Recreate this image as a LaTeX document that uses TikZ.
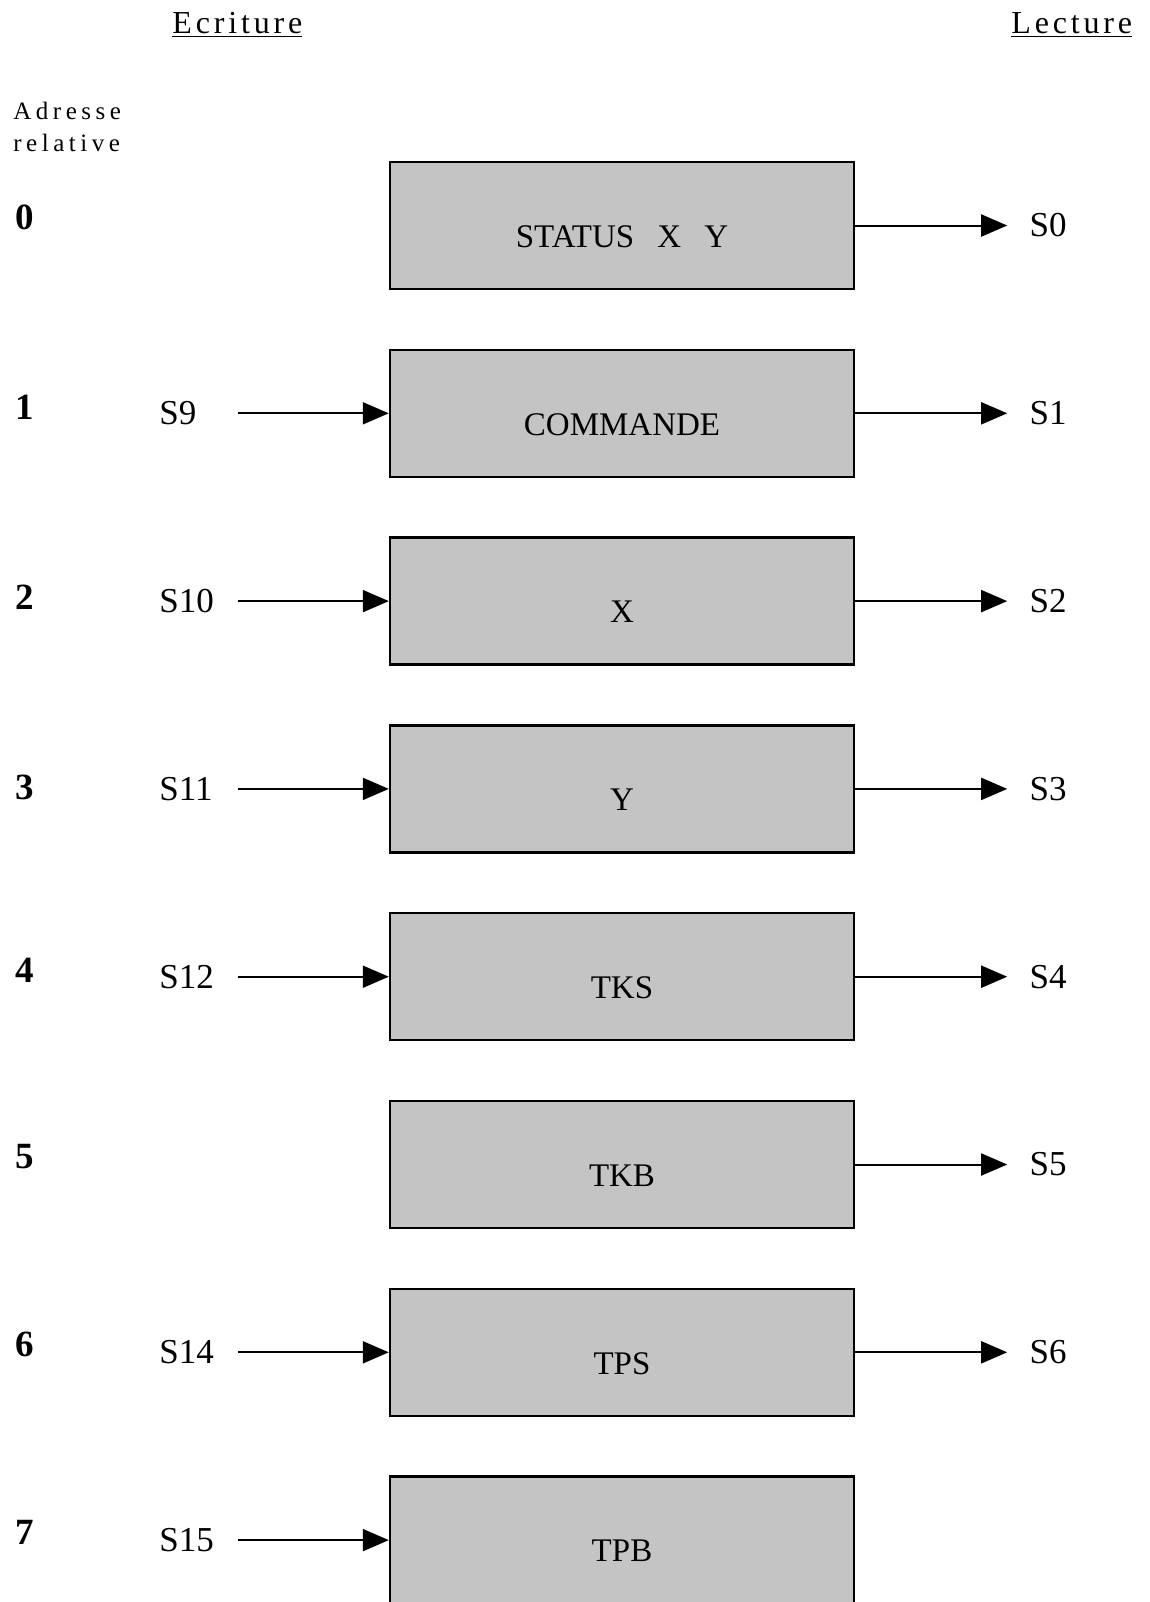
\documentclass[tikz,border=0pt]{standalone}
\usepackage{fontspec}
\setmainfont{Liberation Serif}
\newfontfamily\headfont[LetterSpace=12]{Liberation Serif}
\newfontfamily\addrfont[LetterSpace=18]{Liberation Serif}
\usetikzlibrary{positioning,arrows.meta}

\tikzset{
  reg/.style={draw, line width=1.2pt, fill=black!23, minimum width=232pt,
    minimum height=63.5pt, inner sep=0pt},
  regtext/.style={font=\fontsize{16.5}{20}\selectfont, yshift=-5.5pt, inner sep=0pt},
  insig/.style={font=\fontsize{17.5}{21}\selectfont, text width=37pt, align=left, inner sep=2pt},
  outsig/.style={font=\fontsize{17.5}{21}\selectfont, inner sep=2pt},
  num/.style={font=\bfseries\fontsize{18.5}{22}\selectfont, anchor=west, inner sep=0pt},
  head/.style={font=\headfont\fontsize{16}{19}\selectfont, anchor=base west, inner sep=0pt},
  flow/.style={line width=1pt, -{Triangle[length=13pt,width=11pt]}}
}

\begin{document}
\begin{tikzpicture}[x=0.5pt, y=-0.5pt]
  \useasboundingbox (0,0) rectangle (1150,1602);

  \node[head] (ecr) at (172,33) {\underline{Ecriture}};
  \node[head] (lec) at (1011,33) {\underline{Lecture}};
  \node[anchor=west, align=left, inner sep=0pt,
    font=\addrfont\fontsize{12.5}{16}\selectfont] (adr) at (13,127) {Adresse\\relative};

  \node[reg, label={[regtext]center:STATUS\hspace{0.7em}X\hspace{0.7em}Y}] (reg0) at (622,225.5) {};
  \node[reg, below=29.2pt of reg0, label={[regtext]center:COMMANDE}] (reg1) {};
  \node[reg, below=29.2pt of reg1, label={[regtext]center:X}] (reg2) {};
  \node[reg, below=29.2pt of reg2, label={[regtext]center:Y}] (reg3) {};
  \node[reg, below=29.2pt of reg3, label={[regtext]center:TKS}] (reg4) {};
  \node[reg, below=29.2pt of reg4, label={[regtext]center:TKB}] (reg5) {};
  \node[reg, below=29.2pt of reg5, label={[regtext]center:TPS}] (reg6) {};
  \node[reg, below=29.2pt of reg6, label={[regtext]center:TPB}] (reg7) {};

  \node[num] (n0) at (15,217) {0};
  \node[num] (n1) at (15,407.5) {1};
  \node[num] (n2) at (15,597.5) {2};
  \node[num] (n3) at (15,787.5) {3};
  \node[num] (n4) at (15,970) {4};
  \node[num] (n5) at (15,1157) {5};
  \node[num] (n6) at (15,1344) {6};
  \node[num] (n7) at (15,1532) {7};

  \node[insig, left=75.5pt of reg1] (s9) {S9};
  \node[insig, left=75.5pt of reg2] (s10) {S10};
  \node[insig, left=75.5pt of reg3] (s11) {S11};
  \node[insig, left=75.5pt of reg4] (s12) {S12};
  \node[insig, left=75.5pt of reg6] (s14) {S14};
  \node[insig, left=75.5pt of reg7] (s15) {S15};

  \node[outsig, right=85pt of reg0] (s0) {S0};
  \node[outsig, right=85pt of reg1] (s1) {S1};
  \node[outsig, right=85pt of reg2] (s2) {S2};
  \node[outsig, right=85pt of reg3] (s3) {S3};
  \node[outsig, right=85pt of reg4] (s4) {S4};
  \node[outsig, right=85pt of reg5] (s5) {S5};
  \node[outsig, right=85pt of reg6] (s6) {S6};

  \draw[flow] (s9.east) -- (reg1.west);
  \draw[flow] (s10.east) -- (reg2.west);
  \draw[flow] (s11.east) -- (reg3.west);
  \draw[flow] (s12.east) -- (reg4.west);
  \draw[flow] (s14.east) -- (reg6.west);
  \draw[flow] (s15.east) -- (reg7.west);

  \draw[flow, shorten >=9pt] (reg0.east) -- (s0.west);
  \draw[flow, shorten >=9pt] (reg1.east) -- (s1.west);
  \draw[flow, shorten >=9pt] (reg2.east) -- (s2.west);
  \draw[flow, shorten >=9pt] (reg3.east) -- (s3.west);
  \draw[flow, shorten >=9pt] (reg4.east) -- (s4.west);
  \draw[flow, shorten >=9pt] (reg5.east) -- (s5.west);
  \draw[flow, shorten >=9pt] (reg6.east) -- (s6.west);
\end{tikzpicture}
\end{document}
